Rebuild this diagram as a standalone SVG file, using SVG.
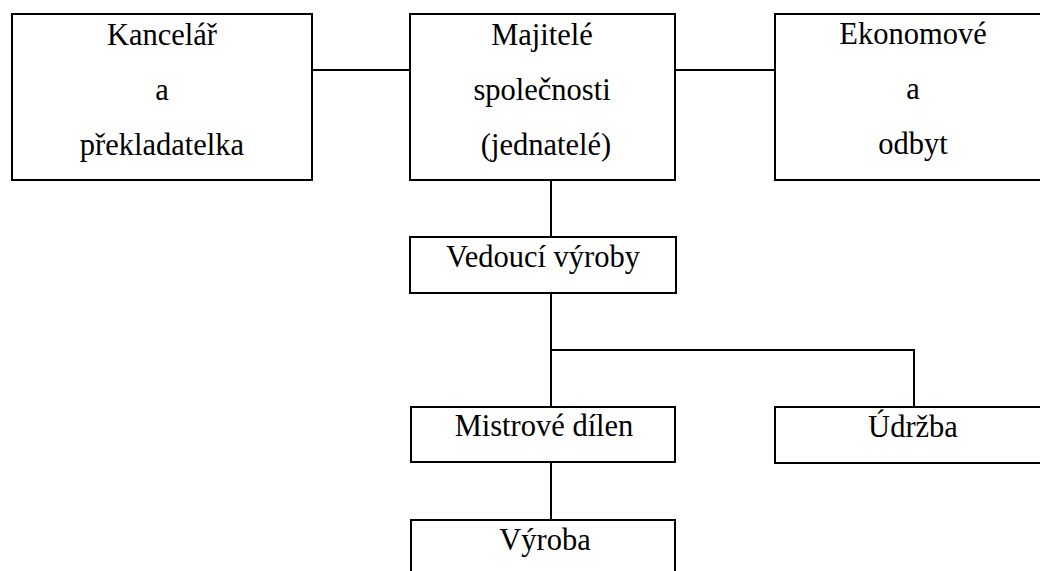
<svg xmlns="http://www.w3.org/2000/svg" width="1040" height="571" viewBox="0 0 1040 571">
<style>
rect.n{fill:#fff;stroke:#000;stroke-width:2}
text{font-family:"Liberation Serif","Times New Roman",serif;font-size:30.5px;fill:#000;text-anchor:middle}
#connectors line{stroke:#000;stroke-width:2}
</style>
<rect width="1040" height="571" fill="#fff"/>
<g id="connectors">
<line x1="312" y1="70" x2="410" y2="70"/>
<line x1="675" y1="70" x2="775" y2="70"/>
<line x1="551" y1="180" x2="551" y2="237"/>
<line x1="551" y1="293" x2="551" y2="407"/>
<line x1="550" y1="350" x2="915" y2="350"/>
<line x1="914" y1="349" x2="914" y2="407"/>
<line x1="551" y1="462" x2="551" y2="520"/>
</g>
<g id="kancelar">
<rect class="n" x="12" y="14" width="300" height="166"/>
<text x="162" y="45">Kancelář</text>
<text x="162" y="100">a</text>
<text x="162" y="155">překladatelka</text>
</g>
<g id="majitele">
<rect class="n" x="410" y="14" width="265" height="166"/>
<text x="542" y="45">Majitelé</text>
<text x="542" y="100">společnosti</text>
<text x="546" y="155">(jednatelé)</text>
</g>
<g id="ekonomove">
<rect class="n" x="775" y="14" width="280" height="166"/>
<text x="913" y="44">Ekonomové</text>
<text x="913" y="99">a</text>
<text x="913" y="154">odbyt</text>
</g>
<g id="vedouci">
<rect class="n" x="410" y="237" width="266" height="56"/>
<text x="543" y="267">Vedoucí výroby</text>
</g>
<g id="mistrove">
<rect class="n" x="411" y="407" width="264" height="55"/>
<text x="544" y="436">Mistrové dílen</text>
</g>
<g id="udrzba">
<rect class="n" x="775" y="407" width="280" height="56"/>
<text x="913" y="437">Údržba</text>
</g>
<g id="vyroba">
<rect class="n" x="411" y="520" width="264" height="70"/>
<text x="545" y="550">Výroba</text>
</g>
</svg>
